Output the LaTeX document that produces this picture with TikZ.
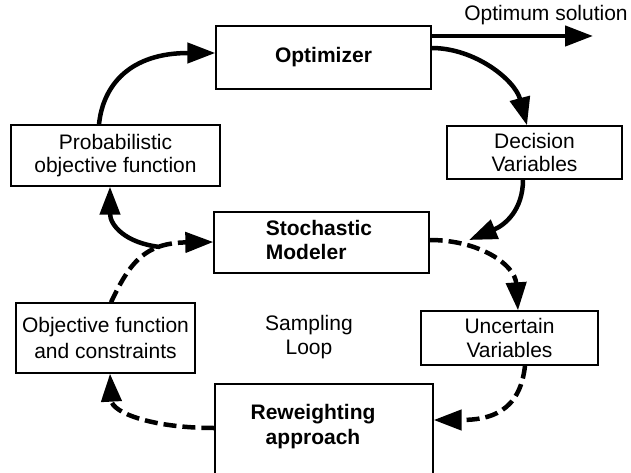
\documentclass[tikz,border=0pt]{standalone}
\usepackage{fontspec}
\setmainfont{Liberation Sans}
\usetikzlibrary{arrows.meta}

\tikzset{
  box/.style={draw, line width=1.3pt, inner sep=0pt, align=center,
    font=\fontsize{21}{23.5}\selectfont},
  boldbox/.style={box, font=\fontsize{21}{24}\selectfont\bfseries},
  plain/.style={inner sep=0pt, align=center, font=\fontsize{21}{23.5}\selectfont},
  flow/.style={line width=4.5pt,
    -{Triangle[length=28pt,width=20pt]}},
  sflow/.style={flow, dash pattern=on 13pt off 6pt},
  link/.style={line width=4.5pt},
}

\begin{document}
\begin{tikzpicture}[x=1pt,y=-1pt]
  \useasboundingbox (0,0) rectangle (631,473);
  \clip (0,0) rectangle (631,473);

  % blocks
  \node[boldbox, minimum width=215pt, minimum height=63pt] (opt) at (323.5,57.5) {Optimizer};
  \node[box, minimum width=209pt, minimum height=61pt] (prob) at (115.5,155.5) {Probabilistic\\objective function};
  \node[box, minimum width=175pt, minimum height=53pt] (dec) at (534.5,152.5) {Decision\\Variables};
  \node[boldbox, minimum width=215pt, minimum height=61pt, align=left] (sto) at (321.5,242.5)
    {\hspace*{-5pt}\begin{tabular}{@{}l@{}}Stochastic\\Modeler\end{tabular}};
  \node[box, minimum width=179pt, minimum height=70pt,
        font=\fontsize{21}{26.5}\selectfont] (obj) at (105.5,338) {Objective function\\and constraints};
  \node[box, minimum width=177pt, minimum height=54pt] (unc) at (509.5,338) {Uncertain\\Variables};
  \node[box, minimum width=218pt, minimum height=100pt] (rw) at (324,434) {};
  \node[plain, font=\fontsize{21}{25}\selectfont\bfseries] (rwtext) at (313,427) {Reweighting\\approach};

  \node[plain] (loop) at (309,337) {Sampling\\Loop};
  \node[plain] (optsol) at (546,15) {Optimum solution};

  % free ends and junctions on the loops
  \coordinate (solend) at (593,36);
  \coordinate (jr) at (469,240);
  \coordinate (jl) at (160,247);

  % outer (optimization) loop
  \draw[flow] ([yshift=21.5pt]opt.east) -- (solend);
  \draw[flow] ([xshift=-16.5pt]prob.north) .. controls (103,85) and (130,53) .. ([yshift=4.5pt]opt.west);
  \draw[flow] ([yshift=9.5pt]opt.east) .. controls (475,48) and (515,80) .. ([xshift=-7.5pt]dec.north);
  \draw[flow] ([xshift=-11.5pt]dec.south) .. controls (523,210) and (505,225) .. (jr);
  \draw[flow] (jl) .. controls (125,243) and (110,225) .. ([xshift=-5.5pt]prob.south);

  % inner (sampling) loop
  \draw[sflow] ([yshift=2.5pt]sto.east) .. controls (480,240) and (515,265) .. ([xshift=8.5pt]unc.north);
  \draw[sflow] ([xshift=15.5pt]unc.south) .. controls (520,412) and (490,420) .. ([yshift=14pt]rw.east);
  \draw[sflow] ([yshift=6pt]rw.west) .. controls (150,428) and (112,412) .. ([xshift=4.5pt]obj.south);
  \draw[sflow] ([xshift=5.5pt]obj.north) .. controls (130,262) and (145,243) .. ([yshift=0.5pt]sto.west);
\end{tikzpicture}
\end{document}
